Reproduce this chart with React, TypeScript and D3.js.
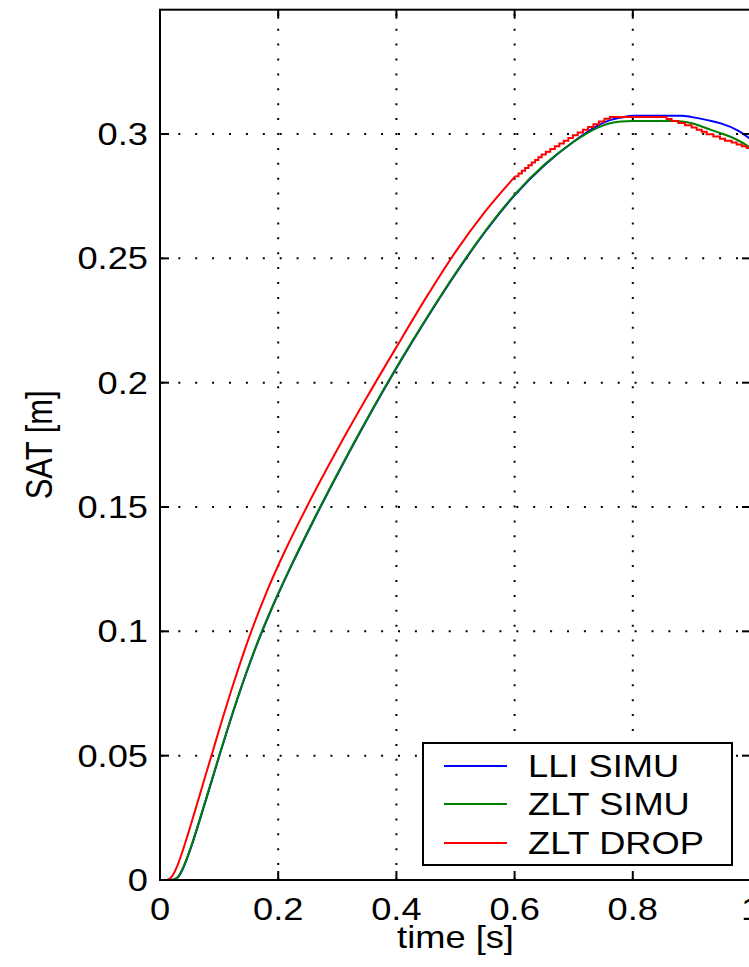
import React from "react";
import * as d3 from "d3";

// Sample times (s) shared by the two simulation curves
const simTime = [0, 0.02, 0.03, 0.04, 0.05, 0.07, 0.1, 0.13, 0.16, 0.19, 0.22, 0.26, 0.3, 0.35, 0.4, 0.45, 0.5, 0.55, 0.6, 0.65, 0.7, 0.74, 0.76, 0.78, 0.8, 0.8685, 0.883, 0.9, 0.926, 0.949, 0.978, 1.0];
// LLI SIMU displacement (m)
const lliSimu = [0, 0, 0.001, 0.0052, 0.0114, 0.0262, 0.0496, 0.0721, 0.0922, 0.1096, 0.1252, 0.1446, 0.163, 0.185, 0.2058, 0.2253, 0.2437, 0.2606, 0.2753, 0.2873, 0.297, 0.3033, 0.3055, 0.3066, 0.3074, 0.3074, 0.3074, 0.3068, 0.3056, 0.3043, 0.3014, 0.2978];
// ZLT SIMU displacement (m)
const zltSimu = [0, 0, 0.0012, 0.0055, 0.0117, 0.0265, 0.0499, 0.0724, 0.0925, 0.1099, 0.1255, 0.1449, 0.1633, 0.1853, 0.2061, 0.2256, 0.244, 0.2609, 0.2756, 0.2876, 0.2969, 0.3025, 0.3042, 0.305, 0.3052, 0.3052, 0.305, 0.3043, 0.3022, 0.3003, 0.2975, 0.2943];

// ZLT DROP measurement: smooth rising part
const dropRiseTime = [0, 0.011, 0.02, 0.03, 0.04, 0.06, 0.09, 0.12, 0.15, 0.18, 0.21, 0.25, 0.3, 0.35, 0.4, 0.45, 0.5, 0.55, 0.601];
const dropRise = [0, 0, 0.0014, 0.0061, 0.0129, 0.0284, 0.0524, 0.0758, 0.0971, 0.1156, 0.1316, 0.1508, 0.1731, 0.1941, 0.2143, 0.2341, 0.2526, 0.2688, 0.283];
// ZLT DROP measurement: quantised levels near the peak (level held from each time)
const dropStepTime = [0.601, 0.6066, 0.6122, 0.6178, 0.6234, 0.629, 0.6346, 0.6402, 0.6458, 0.6528, 0.6604, 0.6681, 0.6757, 0.6833, 0.691, 0.6986, 0.7068, 0.7156, 0.7244, 0.7334, 0.7427, 0.752, 0.7614, 0.8573, 0.8657, 0.877, 0.8883, 0.8996, 0.9081, 0.9166, 0.925, 0.9363, 0.9475, 0.956, 0.9673, 0.9758, 0.9843, 0.9927, 1.0];
const dropStep = [0.283, 0.2841, 0.2852, 0.2863, 0.2874, 0.2885, 0.2896, 0.2907, 0.2918, 0.2929, 0.294, 0.2951, 0.2962, 0.2973, 0.2984, 0.2995, 0.3006, 0.3017, 0.3028, 0.3039, 0.305, 0.3061, 0.3068, 0.306, 0.3052, 0.3044, 0.3035, 0.3026, 0.3017, 0.3009, 0.2999, 0.299, 0.2981, 0.2973, 0.2966, 0.2958, 0.2951, 0.2944, 0.2937];

const xTicks = [0, 0.2, 0.4, 0.6, 0.8, 1];
const xTickLabels = ["0", "0.2", "0.4", "0.6", "0.8", "1"];
const yTicks = [0, 0.05, 0.1, 0.15, 0.2, 0.25, 0.3];
const yTickLabels = ["0", "0.05", "0.1", "0.15", "0.2", "0.25", "0.3"];

const seriesNames = ["LLI SIMU", "ZLT SIMU", "ZLT DROP"];
const seriesColors = ["#0000ff", "#008000", "#ff0000"];

const W = 749;
const H = 967;
const FONT = "'Liberation Sans', Arial, Helvetica, sans-serif";
const FS = 31;
const SX = 1.17;

const x = d3.scaleLinear().domain([0, 1]).range([160, 751]);
const y = d3.scaleLinear().domain([0, 0.35]).range([880, 9.7]);

type Pt = [number, number];
const zip = (t: number[], v: number[]): Pt[] => t.map((d, i) => [d, v[i]]);

const smooth = d3
  .line<Pt>()
  .x((d) => x(d[0]))
  .y((d) => y(d[1]))
  .curve(d3.curveMonotoneX);
const stepped = d3
  .line<Pt>()
  .x((d) => x(d[0]))
  .y((d) => y(d[1]))
  .curve(d3.curveStepAfter);

function Label(props: { x: number; y: number; anchor?: string; rotate?: boolean; children: React.ReactNode }) {
  const { x: tx, y: ty, anchor = "start", rotate = false, children } = props;
  return (
    <text
      transform={`translate(${tx},${ty}) scale(${SX},1)${rotate ? " rotate(-90)" : ""}`}
      textAnchor={anchor}
      fontFamily={FONT}
      fontSize={FS}
      fill="#000"
    >
      {children}
    </text>
  );
}

export default function App() {
  const [x0, x1] = x.range();
  const [yb, yt] = y.range();
  const tickLen = 9;

  const blueD = smooth(zip(simTime, lliSimu)) || "";
  const greenD = smooth(zip(simTime, zltSimu)) || "";
  const redRiseD = smooth(zip(dropRiseTime, dropRise)) || "";
  const redStepD = stepped(zip(dropStepTime, dropStep)) || "";

  const legend = { x: 423, y: 743, w: 309, h: 122 };
  const legendRows = [766, 804, 843];

  return (
    <svg
      width={W}
      height={H}
      style={{ position: "fixed", left: 0, top: 0, background: "#fff", overflow: "hidden" }}
    >
      <rect x={0} y={0} width={W} height={H} fill="#fff" />

      {/* dotted grid */}
      <g stroke="#000" strokeWidth={2} fill="none">
        {xTicks.slice(1).map((t) => (
          <line key={"gx" + t} x1={x(t)} x2={x(t)} y1={yb} y2={yt} strokeDasharray="2 12.9" />
        ))}
        {yTicks.slice(1).map((t) => (
          <line key={"gy" + t} x1={x0} x2={x1} y1={y(t)} y2={y(t)} strokeDasharray="2 14.9" strokeDashoffset={-1.4} />
        ))}
      </g>

      {/* data */}
      <g fill="none" strokeWidth={2} strokeLinejoin="round">
        <path d={blueD} stroke={seriesColors[0]} />
        <path d={greenD} stroke={seriesColors[1]} />
        <path d={redRiseD} stroke={seriesColors[2]} />
        <path d={redStepD} stroke={seriesColors[2]} strokeLinejoin="miter" />
      </g>

      {/* axes box and inward ticks */}
      <g stroke="#000" strokeWidth={2} fill="none">
        <rect x={x0} y={yt} width={x1 - x0} height={yb - yt} />
        {xTicks.map((t) => (
          <g key={"tx" + t}>
            <line x1={x(t)} x2={x(t)} y1={yb} y2={yb - tickLen} />
            <line x1={x(t)} x2={x(t)} y1={yt} y2={yt + tickLen} />
          </g>
        ))}
        {yTicks.map((t) => (
          <g key={"ty" + t}>
            <line x1={x0} x2={x0 + tickLen} y1={y(t)} y2={y(t)} />
            <line x1={x1} x2={x1 - tickLen} y1={y(t)} y2={y(t)} />
          </g>
        ))}
      </g>

      {/* tick labels */}
      {xTicks.map((t, i) => (
        <Label key={"lx" + t} x={x(t)} y={920} anchor="middle">
          {xTickLabels[i]}
        </Label>
      ))}
      {yTicks.map((t, i) => (
        <Label key={"ly" + t} x={148} y={y(t) + 11} anchor="end">
          {yTickLabels[i]}
        </Label>
      ))}

      {/* axis titles */}
      <Label x={(x0 + x1) / 2} y={948} anchor="middle">
        time [s]
      </Label>
      <Label x={52} y={(yb + yt) / 2} anchor="middle" rotate>
        SAT [m]
      </Label>

      {/* legend */}
      <rect x={legend.x} y={legend.y} width={legend.w} height={legend.h} fill="#fff" stroke="#000" strokeWidth={2} />
      {seriesNames.map((name, i) => (
        <g key={name}>
          <line x1={444} x2={507} y1={legendRows[i]} y2={legendRows[i]} stroke={seriesColors[i]} strokeWidth={2} />
          <Label x={528} y={legendRows[i] + 11}>
            {name}
          </Label>
        </g>
      ))}
    </svg>
  );
}
